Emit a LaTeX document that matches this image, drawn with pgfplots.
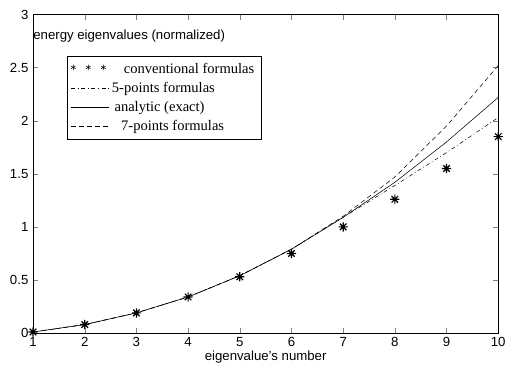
\documentclass[border=0pt]{standalone}
\usepackage{pgfplots}
\pgfplotsset{compat=1.18}
\usepackage{fontspec}
\setmainfont{Liberation Sans}
\newfontfamily\seriffont{Liberation Serif}
\pgfdeclareplotmark{mstar}{%
  \pgfpathmoveto{\pgfqpoint{-\pgfplotmarksize}{0pt}}\pgfpathlineto{\pgfqpoint{\pgfplotmarksize}{0pt}}%
  \pgfpathmoveto{\pgfqpoint{0pt}{-\pgfplotmarksize}}\pgfpathlineto{\pgfqpoint{0pt}{\pgfplotmarksize}}%
  \pgfpathmoveto{\pgfqpoint{-.707\pgfplotmarksize}{-.707\pgfplotmarksize}}\pgfpathlineto{\pgfqpoint{.707\pgfplotmarksize}{.707\pgfplotmarksize}}%
  \pgfpathmoveto{\pgfqpoint{-.707\pgfplotmarksize}{.707\pgfplotmarksize}}\pgfpathlineto{\pgfqpoint{.707\pgfplotmarksize}{-.707\pgfplotmarksize}}%
  \pgfusepathqstroke}
\pgfplotsset{lineleg/.style={legend image code/.code={\draw[##1] (0cm,0cm) -- (1.0cm,0cm);}}}
\begin{document}
\begin{tikzpicture}
\begin{axis}[
  scale only axis, width=352pt, height=241pt,
  xmin=1, xmax=10, ymin=0, ymax=3,
  xtick={1,...,10}, ytick={0,0.5,1,1.5,2,2.5,3},
  tick align=inside, tick pos=both,
  major tick length=4pt,
  axis line style={line width=0.6pt},
  /pgf/number format/assume math mode=true,
  tick label style={font=\fontsize{10}{12}\selectfont},
  yticklabel style={/pgf/number format/fixed},
  xlabel={eigenvalue's number},
  xlabel style={font=\fontsize{10}{12}\selectfont, yshift=4pt},
  legend style={at={(0.0725,0.869)}, anchor=north west, draw=black, thin,
    font=\seriffont\fontsize{11}{13}\selectfont, cells={anchor=west},
    row sep=1.2pt, inner xsep=3pt, inner ysep=3pt},
  legend cell align=left,
  every axis plot/.append style={black},
  clip=false,
]
\addplot[only marks, mark=mstar, mark size=3.5pt, line width=0.9pt,
  legend image code/.code={\draw[thin] plot[mark=asterisk, mark size=2pt, only marks] coordinates {(0.05cm,0.05cm) (0.45cm,0.05cm) (0.85cm,0.05cm)};}]
  coordinates {(1,0.01) (2,0.08) (3,0.19) (4,0.34) (5,0.53) (6,0.75) (7,1.0) (8,1.26) (9,1.55) (10,1.85)};
\addlegendentry{\hspace{9pt}conventional formulas}
\addplot[thin, dash pattern=on 3pt off 2pt on 0.6pt off 2pt, lineleg]
  coordinates {(1,0.01) (2,0.08) (3,0.19) (4,0.34) (5,0.54) (6,0.79) (7,1.09) (8,1.39) (9,1.70) (10,2.03)};
\addlegendentry{5-points formulas}
\addplot[thin, solid, lineleg]
  coordinates {(1,0.01) (2,0.08) (3,0.19) (4,0.34) (5,0.54) (6,0.79) (7,1.09) (8,1.42) (9,1.80) (10,2.22)};
\addlegendentry{\hspace{2pt}analytic (exact)}
\addplot[thin, dash pattern=on 3.5pt off 2.5pt, lineleg]
  coordinates {(1,0.01) (2,0.08) (3,0.19) (4,0.34) (5,0.54) (6,0.79) (7,1.10) (8,1.47) (9,1.95) (10,2.52)};
\addlegendentry{\hspace{7pt}7-points formulas}
\node[anchor=west, font=\fontsize{10}{12}\selectfont, inner sep=0pt] at (axis cs:1,2.8) {energy eigenvalues (normalized)};
\end{axis}
\path (current axis.south west) ++(-25pt,-30pt) coordinate (bl);
\path (current axis.north east) ++(6pt,11pt) coordinate (tr);
\useasboundingbox (bl) rectangle (tr);
\end{tikzpicture}
\end{document}
